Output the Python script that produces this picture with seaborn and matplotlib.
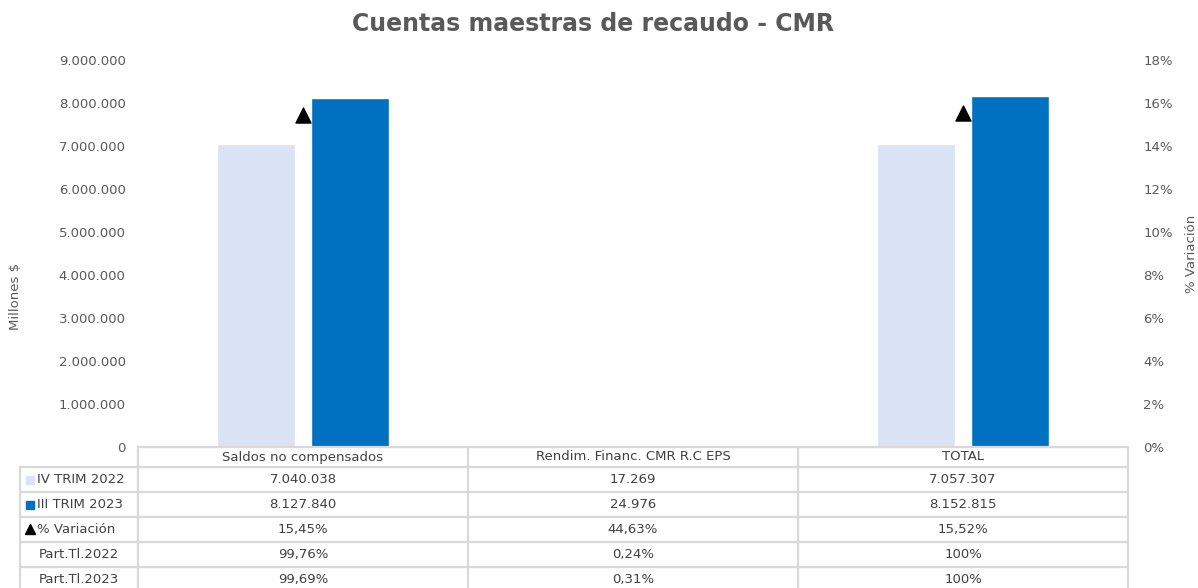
import numpy as np
import pandas as pd
import matplotlib
matplotlib.use("Agg")
import matplotlib.pyplot as plt
import matplotlib.transforms as mtransforms
from matplotlib.ticker import FuncFormatter, MultipleLocator
import seaborn as sns

# ---------------- data ----------------
categorias = ["Saldos no compensados", "Rendim. Financ. CMR R.C EPS", "TOTAL"]
series = ["IV TRIM 2022", "III TRIM 2023"]
valores_2022 = [7040038, 17269, 7057307]
valores_2023 = [8127840, 24976, 8152815]
variacion = [0.1545, 0.4463, 0.1552]
part_2022 = ["99,76%", "0,24%", "100%"]
part_2023 = ["99,69%", "0,31%", "100%"]
var_labels = ["15,45%", "44,63%", "15,52%"]
row_labels = ["IV TRIM 2022", "III TRIM 2023", "% Variación", "Part.Tl.2022", "Part.Tl.2023"]

titulo = "Cuentas maestras de recaudo - CMR"
color_light = "#DAE3F3"
color_dark = "#0070C0"
gray_text = "#595959"
table_text = "#404040"
grid_col = "#D9D9D9"

sns.set_style("white")
plt.rcParams["font.family"] = ["DejaVu Sans"]

df = pd.DataFrame({
    "categoria": categorias * 2,
    "serie": [series[0]] * 3 + [series[1]] * 3,
    "valor": valores_2022 + valores_2023,
})

W, H = 1198, 588
fig = plt.figure(figsize=(W / 100, H / 100), dpi=100)
ax_l, ax_r, ax_b, ax_t = 138, 1128, 447, 60
ax = fig.add_axes([ax_l / W, 1 - ax_b / H, (ax_r - ax_l) / W, (ax_b - ax_t) / H])

sns.barplot(data=df, x="categoria", y="valor", hue="serie",
            palette=[color_light, color_dark], width=0.57, gap=0.18,
            saturation=1, ax=ax, legend=False)
ax.set_ylim(0, 9000000)
ax.yaxis.set_major_locator(MultipleLocator(1000000))
ax.yaxis.set_major_formatter(FuncFormatter(lambda v, p: f"{int(v):,}".replace(",", ".")))
ax.set_xticks([])
ax.set_xlabel("")
ax.set_ylabel("Millones $", color=gray_text, fontsize=9.5)
ax.yaxis.set_label_coords(-0.117, 0.39)
ax.tick_params(axis="y", length=0, pad=9, labelsize=9.5, labelcolor=gray_text)
for s in ax.spines.values():
    s.set_visible(False)

ax2 = ax.twinx()
sns.scatterplot(x=np.arange(len(categorias)), y=variacion, marker="^", s=120,
                color="black", edgecolor="black", ax=ax2, legend=False)
ax2.set_ylim(0, 0.18)
ax2.yaxis.set_major_locator(MultipleLocator(0.02))
ax2.yaxis.set_major_formatter(FuncFormatter(lambda v, p: f"{v*100:.0f}%"))
ax2.set_ylabel("% Variación", color=gray_text, fontsize=9.5)
ax2.yaxis.set_label_coords(1.058, 0.5)
ax2.tick_params(axis="y", length=0, pad=11, labelsize=9.5, labelcolor=gray_text)
for s in ax2.spines.values():
    s.set_visible(False)
ax.set_xlim(-0.5, 2.5)
ax2.set_xlim(-0.5, 2.5)

fig.suptitle(titulo, x=0.495, y=1 - 24 / H, va="center", fontsize=17,
             fontweight="bold", color=gray_text)

# ---------------- data table ----------------
axh = ax_b - ax_t
def ya(py):
    return (ax_b - py) / axh
def xa(px):
    return (px - ax_l) / (ax_r - ax_l)

blend = mtransforms.blended_transform_factory(ax.transData, ax.transAxes)
lw = 1.6
bottom = ya(600)
# horizontal lines
ax.plot([0, 1], [ya(447), ya(447)], transform=ax.transAxes, color=grid_col, lw=lw, clip_on=False)
for py in [467, 492, 517, 542, 567]:
    ax.plot([xa(20), 1], [ya(py), ya(py)], transform=ax.transAxes, color=grid_col, lw=lw, clip_on=False)
# vertical lines
ax.plot([xa(20), xa(20)], [ya(467), bottom], transform=ax.transAxes, color=grid_col, lw=lw, clip_on=False)
for px in [138, 468, 798, 1128]:
    ax.plot([xa(px), xa(px)], [ya(447), bottom], transform=ax.transAxes, color=grid_col, lw=lw, clip_on=False)

fs = 9.5
for i, c in enumerate(categorias):
    ax.text(i, ya(457), c, transform=blend, ha="center", va="center", fontsize=fs, color=table_text)

fmt = lambda v: f"{v:,}".replace(",", ".")
rows = [
    [fmt(v) for v in valores_2022],
    [fmt(v) for v in valores_2023],
    var_labels,
    part_2022,
    part_2023,
]
row_y = [479.5, 504.5, 529.5, 554.5, 579.5]
for r, (lab, vals, py) in enumerate(zip(row_labels, rows, row_y)):
    for i, v in enumerate(vals):
        ax.text(i, ya(py), v, transform=blend, ha="center", va="center", fontsize=fs, color=table_text)
    if r < 3:
        ax.text(xa(37), ya(py), lab, transform=ax.transAxes, ha="left", va="center",
                fontsize=fs, color=table_text)
    else:
        ax.text(xa(79), ya(py), lab, transform=ax.transAxes, ha="center", va="center",
                fontsize=fs, color=table_text)

# legend keys inside row labels
ax.plot([xa(30)], [ya(479.5)], transform=ax.transAxes, marker="s", ms=5.5,
        color=color_light, clip_on=False, ls="none")
ax.plot([xa(30)], [ya(504.5)], transform=ax.transAxes, marker="s", ms=5.5,
        color=color_dark, clip_on=False, ls="none")
ax.plot([xa(30)], [ya(529)], transform=ax.transAxes, marker="^", ms=6.5,
        color="black", clip_on=False, ls="none")

fig.savefig("out.png", dpi=100)
